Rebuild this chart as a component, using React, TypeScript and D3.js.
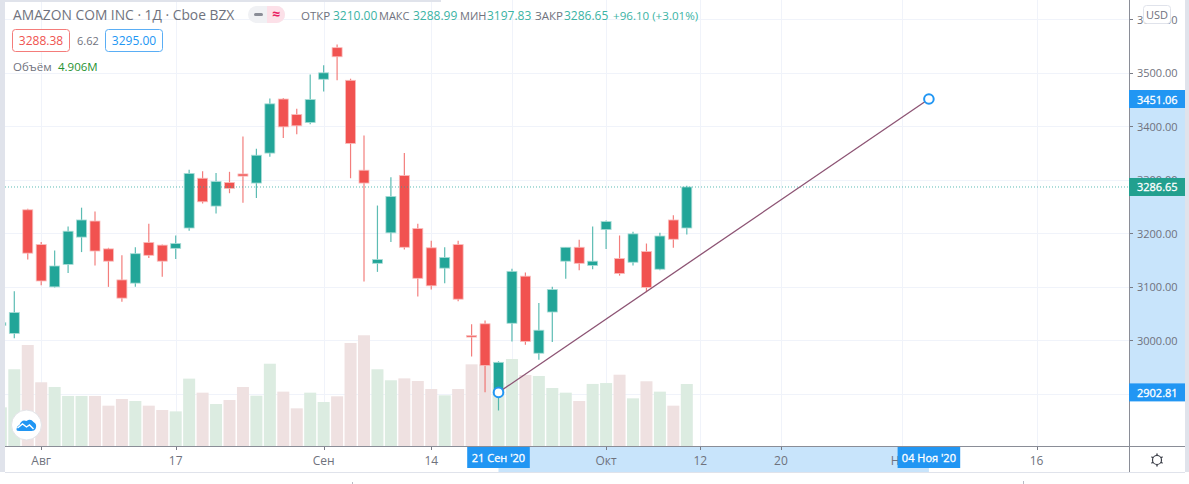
import React, { useRef, useEffect } from "react";
import * as d3 from "d3";

// one entry per trading day, first one (29 Jul) is cut by the left edge of the pane
const opens = [3028, 3013, 3244, 3179, 3100, 3142, 3193, 3223, 3171, 3113, 3107, 3183, 3178, 3172, 3210, 3303, 3251, 3295, 3311, 3294, 3350, 3451, 3422, 3407, 3488, 3547, 3486, 3318, 3144, 3201, 3308, 3209, 3173, 3135, 3179, 3009, 3031, 2902, 3032, 3120, 2976, 3053, 3148, 3174, 3140, 3207, 3153, 3146, 3166, 3133, 3225, 3210];
const highs = [3036, 3092, 3246, 3184, 3168, 3213, 3248, 3241, 3173, 3159, 3174, 3218, 3179, 3196, 3319, 3316, 3313, 3315, 3381, 3358, 3452, 3453, 3433, 3497, 3514, 3553, 3489, 3383, 3252, 3305, 3350, 3218, 3186, 3174, 3186, 3030, 3037, 2961, 3134, 3127, 3070, 3100, 3174, 3188, 3213, 3224, 3196, 3203, 3181, 3201, 3234, 3288.99];
const lows = [3024, 3004, 3151, 3103, 3099, 3126, 3165, 3140, 3100, 3072, 3100, 3154, 3119, 3152, 3205, 3256, 3237, 3275, 3257, 3266, 3343, 3378, 3385, 3404, 3465, 3486, 3303, 3110, 3128, 3184, 3170, 3082, 3095, 3107, 3073, 2970, 2903, 2869, 2998, 2992, 2964, 2997, 3115, 3131, 3133, 3171, 3121, 3140, 3090, 3131, 3173, 3197.83];
const closes = [3033, 3052, 3163, 3111, 3139, 3204, 3225, 3167, 3148, 3079, 3162, 3159, 3148, 3181, 3312, 3259, 3297, 3284, 3307, 3346, 3442, 3399, 3401, 3450, 3500, 3530, 3368, 3294, 3151, 3269, 3174, 3116, 3102, 3155, 3077, 3008, 2953, 2959, 3129, 2998, 3019, 3095, 3174, 3144, 3148, 3222, 3125, 3199, 3099, 3195, 3189, 3286.65];
const volumes = [3.06, 6.07, 7.99, 5.04, 4.67, 3.96, 3.96, 3.96, 3.19, 3.72, 3.56, 3.19, 2.85, 2.74, 5.33, 4.22, 3.32, 3.64, 4.67, 3.98, 6.51, 4.3, 2.98, 4.22, 3.48, 3.93, 8.15, 8.76, 6.07, 5.2, 5.35, 5.14, 4.51, 4.01, 4.51, 6.46, 6.46, 5.0, 6.88, 5.62, 5.54, 4.59, 4.22, 3.56, 4.91, 4.98, 5.64, 3.77, 5.12, 4.3, 3.19, 4.906];

const priceTicks = [2900, 3000, 3100, 3200, 3300, 3400, 3500, 3600];
const timeTickIndex = [2, 12, 23, 31, 37, 44, 51, 57, 66, 76];
// the tick at index 37 has its label hidden by the crosshair date in the reference
const timeTickLabels = ["Авг", "17", "Сен", "14", "", "Окт", "12", "20", "Ноя", "16"];

const trendStart = { index: 36, price: 2902.81, label: "21 Сен '20" };
const trendEnd = { index: 68, price: 3451.06, label: "04 Ноя '20" };
const lastPrice = 3286.65;

const legendTop = [
  { text: "ОТКР", x: 301, fill: "#6f727d", size: 11.5 },
  { text: "3210.00", x: 333, fill: "#3bb3a4", size: 12 },
  { text: "МАКС", x: 379, fill: "#6f727d", size: 11 },
  { text: "3288.99", x: 413, fill: "#3bb3a4", size: 12 },
  { text: "МИН", x: 460, fill: "#6f727d", size: 11 },
  { text: "3197.83", x: 487, fill: "#3bb3a4", size: 12 },
  { text: "ЗАКР", x: 535, fill: "#6f727d", size: 11.5 },
  { text: "3286.65", x: 564, fill: "#3bb3a4", size: 12 },
  { text: "+96.10 (+3.01%)", x: 613, fill: "#3bb3a4", size: 11.6 },
];

const UP = "#26a69a";
const DOWN = "#ef5350";
const BLUE = "#2196f3";
const BAND = "#c8e4fb";
const FONT = "'Open Sans', 'Noto Sans', sans-serif";

export default function App() {
  const svgRef = useRef<SVGSVGElement | null>(null);

  useEffect(() => {
    const svg = d3.select(svgRef.current);
    svg.selectAll("*").remove();

    const paneLeft = 5;
    const paneRight = 1129;
    const paneBottom = 446;
    const axisBottom = 472;
    const rightEdge = 1185;

    const x = d3.scaleLinear().domain([36, 68]).range([498.5, 928.9]);
    const y = d3.scaleLinear().domain([2900, 3600]).range([393.9, 19.3]);
    const yVol = d3.scaleLinear().domain([0, 10]).range([paneBottom, paneBottom - 126.4]);

    const days = opens.map((o, k) => ({
      index: k - 1,
      open: o,
      high: highs[k],
      low: lows[k],
      close: closes[k],
      volume: volumes[k],
      up: closes[k] >= o,
    }));

    svg.append("rect").attr("width", 1189).attr("height", 484).attr("fill", "#ffffff");

    svg
      .append("defs")
      .append("clipPath")
      .attr("id", "pane")
      .append("rect")
      .attr("x", paneLeft)
      .attr("y", 0)
      .attr("width", paneRight - paneLeft)
      .attr("height", paneBottom);

    // grid
    const grid = svg.append("g").attr("stroke", "#f0f3fa").attr("stroke-width", 1);
    grid
      .selectAll("line.h")
      .data(priceTicks)
      .enter()
      .append("line")
      .attr("x1", paneLeft)
      .attr("x2", paneRight)
      .attr("y1", (d) => Math.round(y(d)) + 0.5)
      .attr("y2", (d) => Math.round(y(d)) + 0.5);
    grid
      .selectAll("line.v")
      .data(timeTickIndex)
      .enter()
      .append("line")
      .attr("x1", (d) => Math.round(x(d)) + 0.5)
      .attr("x2", (d) => Math.round(x(d)) + 0.5)
      .attr("y1", 0)
      .attr("y2", paneBottom);

    const pane = svg.append("g").attr("clip-path", "url(#pane)");

    // volume
    pane
      .selectAll("rect.vol")
      .data(days)
      .enter()
      .append("rect")
      .attr("x", (d) => x(d.index) - 6)
      .attr("width", 12)
      .attr("y", (d) => yVol(d.volume))
      .attr("height", (d) => paneBottom - yVol(d.volume))
      .attr("fill", (d) => (d.up ? "#dcece1" : "#efe1e1"));

    // candles
    const candle = pane.selectAll("g.candle").data(days).enter().append("g");
    candle
      .append("line")
      .attr("x1", (d) => x(d.index))
      .attr("x2", (d) => x(d.index))
      .attr("y1", (d) => y(d.high))
      .attr("y2", (d) => y(d.low))
      .attr("stroke", (d) => (d.up ? UP : DOWN))
      .attr("stroke-opacity", 0.75)
      .attr("stroke-width", 1.2);
    candle
      .append("rect")
      .attr("x", (d) => x(d.index) - 5)
      .attr("width", 10)
      .attr("y", (d) => y(Math.max(d.open, d.close)))
      .attr("height", (d) => Math.max(1.5, Math.abs(y(d.open) - y(d.close))))
      .attr("fill", (d) => (d.up ? "#22a598" : "#f15250"))
      .attr("stroke", (d) => (d.up ? "#a9dcd6" : "#f9bdbc"))
      .attr("stroke-width", 0.8);

    // last price
    svg
      .append("line")
      .attr("x1", paneLeft)
      .attr("x2", paneRight)
      .attr("y1", y(lastPrice))
      .attr("y2", y(lastPrice))
      .attr("stroke", UP)
      .attr("stroke-opacity", 0.75)
      .attr("stroke-dasharray", "1 2");

    // axes frame
    svg
      .append("rect")
      .attr("x", x(trendStart.index))
      .attr("y", paneBottom)
      .attr("width", x(trendEnd.index) - x(trendStart.index))
      .attr("height", axisBottom - paneBottom)
      .attr("fill", BAND);
    svg
      .append("rect")
      .attr("x", paneRight)
      .attr("y", y(trendEnd.price))
      .attr("width", rightEdge - paneRight)
      .attr("height", y(trendStart.price) - y(trendEnd.price))
      .attr("fill", BAND);

    // price axis
    const priceAxis = svg.append("g").attr("font-family", FONT).attr("font-size", 11).attr("fill", "#6f727d");
    priceAxis
      .selectAll("text")
      .data(priceTicks.filter((d) => d !== 2900))
      .enter()
      .append("text")
      .attr("x", 1137)
      .attr("y", (d) => y(d) + 4.5)
      .text((d) => d3.format(".2f")(d));
    priceAxis
      .selectAll("line")
      .data(priceTicks)
      .enter()
      .append("line")
      .attr("x1", paneRight)
      .attr("x2", paneRight + 4)
      .attr("y1", (d) => Math.round(y(d)) + 0.5)
      .attr("y2", (d) => Math.round(y(d)) + 0.5)
      .attr("stroke", "#787b86");

    // time axis
    const timeAxis = svg.append("g").attr("font-family", FONT).attr("font-size", 12).attr("fill", "#6f727d");
    timeAxis
      .selectAll("text")
      .data(timeTickIndex)
      .enter()
      .append("text")
      .attr("x", (d) => x(d))
      .attr("y", 465)
      .attr("text-anchor", "middle")
      .text((d, i) => timeTickLabels[i]);
    timeAxis
      .selectAll("line")
      .data(timeTickIndex.concat([trendStart.index, trendEnd.index]))
      .enter()
      .append("line")
      .attr("x1", (d) => Math.round(x(d)) + 0.5)
      .attr("x2", (d) => Math.round(x(d)) + 0.5)
      .attr("y1", paneBottom)
      .attr("y2", paneBottom + 4)
      .attr("stroke", "#787b86");

    svg
      .append("line")
      .attr("x1", paneLeft)
      .attr("x2", rightEdge)
      .attr("y1", paneBottom + 0.5)
      .attr("y2", paneBottom + 0.5)
      .attr("stroke", "#8a8d97");
    svg
      .append("line")
      .attr("x1", paneRight + 0.5)
      .attr("x2", paneRight + 0.5)
      .attr("y1", 0)
      .attr("y2", axisBottom)
      .attr("stroke", "#8a8d97");
    svg
      .append("line")
      .attr("x1", paneLeft)
      .attr("x2", rightEdge)
      .attr("y1", axisBottom + 0.5)
      .attr("y2", axisBottom + 0.5)
      .attr("stroke", "#e0e3eb");

    // trend line
    const line = d3
      .line<{ index: number; price: number }>()
      .x((d) => x(d.index))
      .y((d) => y(d.price));
    svg
      .append("path")
      .attr("d", line([trendStart, trendEnd]))
      .attr("fill", "none")
      .attr("stroke", "#8d5474")
      .attr("stroke-width", 1.3);
    svg
      .selectAll("circle.handle")
      .data([trendStart, trendEnd])
      .enter()
      .append("circle")
      .attr("cx", (d) => x(d.index))
      .attr("cy", (d) => y(d.price))
      .attr("r", 4.8)
      .attr("fill", "#ffffff")
      .attr("stroke", BLUE)
      .attr("stroke-width", 2);

    // price labels
    const priceLabels = [
      { price: trendEnd.price, fill: BLUE },
      { price: lastPrice, fill: "#22a08f" },
      { price: trendStart.price, fill: BLUE },
    ];
    const priceLabel = svg.selectAll("g.pl").data(priceLabels).enter().append("g");
    priceLabel
      .append("rect")
      .attr("x", paneRight)
      .attr("y", (d) => y(d.price) - 9)
      .attr("width", rightEdge - paneRight)
      .attr("height", 18)
      .attr("fill", (d) => d.fill);
    priceLabel
      .append("text")
      .attr("x", 1137)
      .attr("y", (d) => y(d.price) + 4.5)
      .attr("font-family", FONT)
      .attr("font-size", 11)
      .attr("fill", "#ffffff")
      .attr("stroke", "#ffffff")
      .attr("stroke-width", 0.3)
      .text((d) => d3.format(".2f")(d.price));

    // date labels
    const dateLabel = svg.selectAll("g.dl").data([trendStart, trendEnd]).enter().append("g");
    dateLabel
      .append("rect")
      .attr("x", (d) => x(d.index) - 31.3)
      .attr("y", paneBottom + 1)
      .attr("width", 62.6)
      .attr("height", 21)
      .attr("fill", BLUE);
    dateLabel
      .append("text")
      .attr("x", (d) => x(d.index))
      .attr("y", 462)
      .attr("text-anchor", "middle")
      .attr("font-family", FONT)
      .attr("font-size", 11)
      .attr("fill", "#ffffff")
      .attr("stroke", "#ffffff")
      .attr("stroke-width", 0.3)
      .text((d) => d.label);

    // USD button
    svg
      .append("rect")
      .attr("x", 1143.5)
      .attr("y", 5.5)
      .attr("width", 27)
      .attr("height", 18)
      .attr("rx", 3)
      .attr("fill", "#ffffff")
      .attr("stroke", "#e0e3eb");
    svg
      .append("text")
      .attr("x", 1157)
      .attr("y", 18.5)
      .attr("text-anchor", "middle")
      .attr("font-family", FONT)
      .attr("font-size", 11)
      .attr("fill", "#6f727d")
      .text("USD");

    // gear
    const gear = svg.append("g").attr("transform", "translate(1157,460)").attr("stroke", "#3a3d47");
    gear.append("circle").attr("r", 4.5).attr("fill", "none").attr("stroke-width", 1.2);
    gear
      .selectAll("line")
      .data(d3.range(0, 360, 60))
      .enter()
      .append("line")
      .attr("y1", -4.5)
      .attr("y2", -6.5)
      .attr("stroke-width", 1.4)
      .attr("transform", (d) => `rotate(${d})`);

    // logo
    const logo = svg.append("g").attr("transform", "translate(26.5,425)");
    logo.append("circle").attr("r", 15).attr("fill", "#ffffff").attr("stroke", "#e3e4e8").attr("stroke-width", 1);
    logo
      .append("path")
      .attr("d", "M-10,5 Q-10,1 -7,0 Q-5,-6 0,-4 Q4,-7 7,-3 Q11,-1 9,4 Q8,6 5,6 L-7,6 Q-10,6 -10,5 Z")
      .attr("fill", BLUE);
    logo
      .append("path")
      .attr("d", "M-9,3 L-4,-1 L0,2 L3,0 L7,4")
      .attr("fill", "none")
      .attr("stroke", "#ffffff")
      .attr("stroke-width", 1.4);

    // legend
    const legend = svg.append("g").attr("font-family", FONT);
    legend
      .append("text")
      .attr("x", 13)
      .attr("y", 20)
      .attr("font-size", 13.8)
      .attr("fill", "#6f727d")
      .text("AMAZON COM INC · 1Д · Cboe BZX");

    legend.append("rect").attr("x", 248).attr("y", 6).attr("width", 37).attr("height", 17).attr("rx", 8.5).attr("fill", "#f0f1f4");
    legend.append("path").attr("d", "M267,6 h9.5 a8.5,8.5 0 0 1 0,17 h-9.5 Z").attr("fill", "#fce0e8");
    legend.append("rect").attr("x", 254).attr("y", 13).attr("width", 9).attr("height", 3).attr("rx", 1.5).attr("fill", "#8a8d97");
    legend
      .append("text")
      .attr("x", 276)
      .attr("y", 19)
      .attr("text-anchor", "middle")
      .attr("font-size", 14)
      .attr("font-weight", 700)
      .attr("fill", "#e91e63")
      .text("≈");

    legend
      .selectAll("text.ohlc")
      .data(legendTop)
      .enter()
      .append("text")
      .attr("x", (d) => d.x)
      .attr("y", 20)
      .attr("font-size", (d) => d.size)
      .attr("fill", (d) => d.fill)
      .text((d) => d.text);

    const quoteBoxes = [
      { text: "3288.38", x: 12.5, stroke: "#f47c7a", fill: "#ef5350" },
      { text: "3295.00", x: 105.5, stroke: "#5aaef5", fill: BLUE },
    ];
    const box = legend.selectAll("g.q").data(quoteBoxes).enter().append("g");
    box
      .append("rect")
      .attr("x", (d) => d.x)
      .attr("y", 29.5)
      .attr("width", 57)
      .attr("height", 22)
      .attr("rx", 3)
      .attr("fill", "#ffffff")
      .attr("stroke", (d) => d.stroke);
    box
      .append("text")
      .attr("x", (d) => d.x + 28.5)
      .attr("y", 45)
      .attr("text-anchor", "middle")
      .attr("font-size", 12)
      .attr("fill", (d) => d.fill)
      .text((d) => d.text);
    legend.append("text").attr("x", 77).attr("y", 45).attr("font-size", 11).attr("fill", "#6f727d").text("6.62");
    legend.append("text").attr("x", 13).attr("y", 71).attr("font-size", 11.5).attr("fill", "#6f727d").text("Объём");
    legend.append("text").attr("x", 58).attr("y", 71).attr("font-size", 11.5).attr("fill", "#1f9231").text("4.906M");

    // window chrome
    svg.append("rect").attr("x", 0).attr("y", 0).attr("width", paneLeft).attr("height", axisBottom).attr("fill", "#e0e3eb");
    svg.append("rect").attr("x", rightEdge).attr("y", 0).attr("width", 4).attr("height", axisBottom).attr("fill", "#e0e3eb");
    svg.append("rect").attr("x", 0).attr("y", 0).attr("width", 441).attr("height", 2).attr("fill", "#e0e3eb");
    svg.append("line").attr("x1", 352.5).attr("x2", 352.5).attr("y1", 482).attr("y2", 484).attr("stroke", "#b8bbc4");
    svg.append("line").attr("x1", 1023.5).attr("x2", 1023.5).attr("y1", 481).attr("y2", 484).attr("stroke", "#b8bbc4");
  }, []);

  return (
    <svg
      ref={svgRef}
      width={1189}
      height={484}
      style={{ position: "fixed", left: 0, top: 0, display: "block" }}
    />
  );
}
